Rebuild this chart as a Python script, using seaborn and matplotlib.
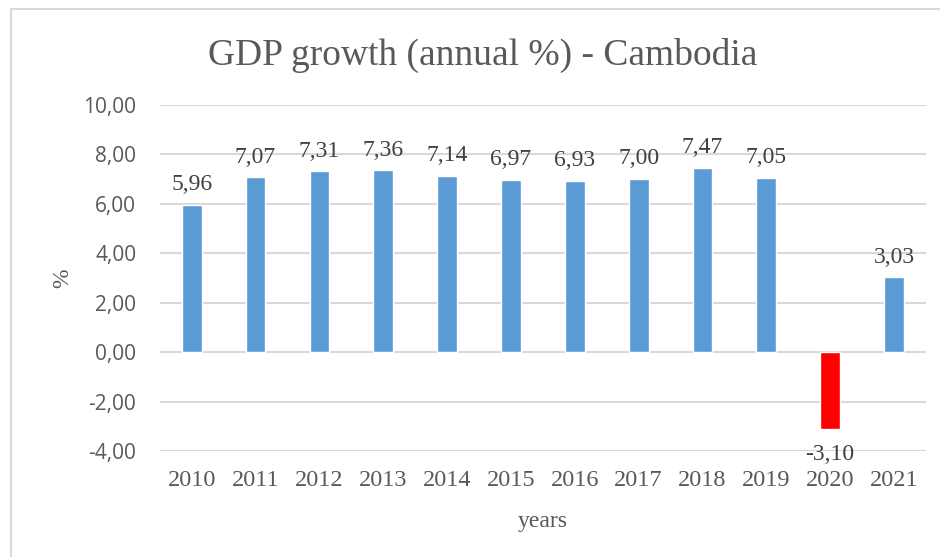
import numpy as np
import pandas as pd
import matplotlib
matplotlib.use("Agg")
import matplotlib.pyplot as plt
from matplotlib.patches import Rectangle
import seaborn as sns

years = ["2010", "2011", "2012", "2013", "2014", "2015",
         "2016", "2017", "2018", "2019", "2020", "2021"]
growth = [5.96, 7.07, 7.31, 7.36, 7.14, 6.97, 6.93, 7.00, 7.47, 7.05, -3.10, 3.03]
highlight = "2020"

df = pd.DataFrame({"year": years, "growth": growth})

blue = "#5B9BD5"
red = "#FF0000"
txt = "#595959"
grid = "#D9D9D9"
serif = "Liberation Serif"
sans = "Open Sans"

sns.set_style("white")
palette = {y: (red if y == highlight else blue) for y in years}

fig = plt.figure(figsize=(9.4, 5.57), dpi=100)
ax = fig.add_axes([0.170, 0.1903, 0.815, 0.6212])

sns.barplot(data=df, x="year", y="growth", hue="year", palette=palette,
            width=0.31, legend=False, ax=ax, saturation=1, zorder=3)

ax.set_ylim(-4, 10)
ax.set_xlim(-0.5, len(years) - 0.5)
ticks = np.arange(-4, 10.1, 2)
ax.set_yticks(ticks)
ax.set_yticklabels([f"{t:.2f}".replace(".", ",") for t in ticks],
                   fontsize=15, color=txt, family=sans)
ax.tick_params(axis="y", length=0, pad=17)
ax.tick_params(axis="x", length=0, pad=14)
for lab in ax.get_xticklabels():
    lab.set_family(serif)
    lab.set_fontsize(17.5)
    lab.set_color(txt)

ax.yaxis.grid(True, color=grid, linewidth=1.5, zorder=0)
ax.set_axisbelow(True)
for s in ax.spines.values():
    s.set_visible(False)

for i, v in enumerate(growth):
    label = f"{v:.2f}".replace(".", ",")
    if v >= 0:
        ax.annotate(label, (i, v), xytext=(0, 7), textcoords="offset points",
                    ha="center", va="bottom", fontsize=17, color="#404040", family=serif)
    else:
        ax.annotate(label, (i, v), xytext=(0, -11), textcoords="offset points",
                    ha="center", va="top", fontsize=17, color="#404040", family=serif)

ax.set_xlabel("years", fontsize=17, color=txt, family=serif, labelpad=14)
ax.set_ylabel("%", fontsize=17, color=txt, family=serif, labelpad=7)

fig.text(0.513, 0.9, "GDP growth (annual %) - Cambodia", ha="center", va="center",
         fontsize=27, color=txt, family=serif)

fig.patches.append(Rectangle((10.5 / 940, -0.1), 1.2, 1 - 9 / 557 + 0.1,
                             transform=fig.transFigure, fill=False,
                             edgecolor=grid, linewidth=1.5))

fig.savefig("out.png", dpi=100)
